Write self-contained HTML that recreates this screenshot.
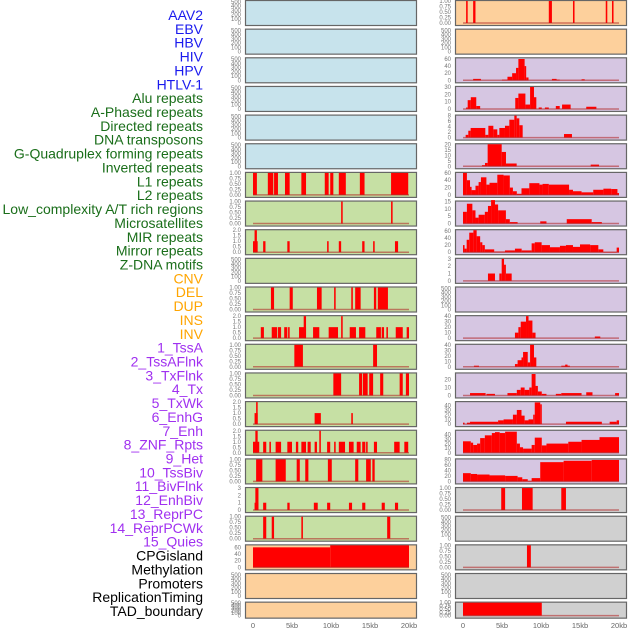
<!DOCTYPE html>
<html><head><meta charset="utf-8">
<style>
html,body{margin:0;padding:0;background:#fff;}
svg{display:block;font-family:"Liberation Sans",sans-serif;}
</style></head>
<body>
<svg id="chart" width="630" height="630" viewBox="0 0 630 630" xmlns="http://www.w3.org/2000/svg">
<g id="labels"></g>
<g id="panels"></g>
<g id="xaxes"></g>
</svg>
<script>
// ---- data (segments: [startKb, endKb, value]) ----
const trackNames = ["AAV2","EBV","HBV","HIV","HPV","HTLV-1","Alu repeats","A-Phased repeats","Directed repeats","DNA transposons","G-Quadruplex forming repeats","Inverted repeats","L1 repeats","L2 repeats","Low_complexity A/T rich regions","Microsatellites","MIR repeats","Mirror repeats","Z-DNA motifs","CNV","DEL","DUP","INS","INV","1_TssA","2_TssAFlnk","3_TxFlnk","4_Tx","5_TxWk","6_EnhG","7_Enh","8_ZNF_Rpts","9_Het","10_TssBiv","11_BivFlnk","12_EnhBiv","13_ReprPC","14_ReprPCWk","15_Quies","CPGisland","Methylation","Promoters","ReplicationTiming","TAD_boundary"];
const labelColors = ["#1a1aee","#1a1aee","#1a1aee","#1a1aee","#1a1aee","#1a1aee","#1a6e1a","#1a6e1a","#1a6e1a","#1a6e1a","#1a6e1a","#1a6e1a","#1a6e1a","#1a6e1a","#1a6e1a","#1a6e1a","#1a6e1a","#1a6e1a","#1a6e1a","#ffa500","#ffa500","#ffa500","#ffa500","#ffa500","#a030f0","#a030f0","#a030f0","#a030f0","#a030f0","#a030f0","#a030f0","#a030f0","#a030f0","#a030f0","#a030f0","#a030f0","#a030f0","#a030f0","#a030f0","#000","#000","#000","#000","#000"];
const ticksEmpty = [0,100,200,300,400,500];
const ticksUnit = [0,0.25,0.5,0.75,1];
const ticks2 = [0,0.5,1,1.5,2];
const ticks3 = [0,1,2,3];

const aluData = [[0,0.5,1],[1.9,2.6,1],[2.7,3.2,1],[4.1,4.7,1],[6.2,6.8,1],[9.2,9.7,1],[9.9,10.3,1],[11,11.9,1],[13.7,14.3,1],[17.7,19.9,1]];
const aPhasedData = [[11.3,11.5,1],[17.7,17.9,1]];
const directedData = [[0,0.6,1],[0.2,0.5,2],[1.3,1.6,1],[4.4,4.7,1],[9.5,9.7,1],[11,11.3,1],[14,14.3,1],[15.4,15.6,1],[18.2,18.6,1]];
const gQuadData = [[2.3,2.7,1],[4.7,5.1,1],[8.2,8.8,1],[10.4,10.6,1],[12.6,12.8,1],[13.1,13.8,1],[15.5,15.8,1],[16,17.3,1]];
const invertedData = [[1,1.4,1],[2.4,3.1,1],[3.2,3.6,1],[4,4.4,1],[4.5,4.7,1],[5.9,6.8,1],[6.5,6.8,2],[7.7,8.5,1],[9.7,10.9,1],[11.3,11.5,2],[12.4,13.2,1],[13.6,14.4,1],[15.8,16.4,1],[16.5,16.8,1],[17.1,17.3,1],[18.3,19.2,1],[19.7,20,1]];
const l1Data = [[5.3,6.4,1],[15.4,15.9,1]];
const l2Data = [[10.3,11.3,1],[13.6,14,1],[14.1,14.7,1],[14.9,15.4,1],[16.3,16.7,1],[18.8,19.2,1],[19.6,20,1]];
const lowCompData = [[0.2,0.6,1],[0.4,0.6,2],[7.9,8.7,1],[12.6,12.8,1]];
const microsatData = [[0,0.8,1],[0.3,0.6,2],[1.3,1.7,1],[2.1,2.3,1],[2.9,3.6,1],[4.4,5,1],[5.5,5.8,1],[6.2,6.8,1],[7,7.4,1],[7.9,8.2,1],[8.5,8.7,2],[9.5,9.9,1],[10.4,10.6,1],[11,11.8,1],[12.3,12.9,1],[13.3,13.8,1],[14,14.4,1],[14.5,14.7,1],[15.5,15.9,1],[18.1,18.8,1],[19.4,19.9,1]];
const mirData = [[0.4,1.2,1],[2.9,4.2,1],[5.6,6,1],[6.7,7.1,1],[9.6,10.1,1],[13.1,13.5,1],[14.5,15.1,1],[15.3,15.6,1]];
const mirrorData = [[0.2,0.7,1],[0.3,0.7,3],[1.3,1.7,1],[4.4,4.7,1],[7.8,8.3,1],[9.5,9.9,1],[12.3,12.7,1],[14,14.4,1],[16.5,16.9,1],[18.2,18.6,1]];
const zdnaData = [[1.3,1.7,1],[2.4,2.7,1],[6.2,6.4,1],[17.2,17.6,1]];
const cnvData = [[0,9.9,60],[9.9,20,66]];
const insData = [[0.4,0.6,1],[1.3,1.6,1],[11,11.4,1],[14.1,14.3,1],[18.3,18.5,1],[19.1,19.3,1]];
const tssAData = [[1.3,2.3,4],[5,5.7,2],[5.7,6.3,10],[6.3,6.8,20],[6.8,7.1,35],[7.1,7.9,60],[7.9,8.1,40],[8.1,8.4,8],[11.4,12,4],[12,12.4,2],[15.2,15.6,3]];
const tssAFlnkData = [[0.4,0.6,2],[0.6,1,12],[1,1.7,16],[1.7,2.2,4],[6.7,7.1,15],[7.1,8,21],[8,8.6,6],[8.6,9.1,30],[9.1,9.4,16],[9.7,10.1,2],[10.5,11,2],[11.9,12.4,4],[12.7,13.8,6],[15.8,17.1,3]];
const txFlnkData = [[0.34,0.68,1],[0.68,0.98,2.5],[0.98,2.86,3.5],[2.86,3.25,1],[3.25,3.89,4.3],[3.89,4.4,3],[4.4,4.66,1],[4.66,5.38,3.5],[5.38,5.94,4.3],[5.94,6.58,6.5],[6.58,6.88,8],[6.88,7.22,7],[7.22,7.65,4.5],[12.95,13.97,1.3]];
const txData = [[2.43,2.82,1],[2.82,3.16,3],[3.16,4.96,20],[4.96,5.51,13],[5.51,6.88,2.5],[16.37,17.44,1.5]];
const txWkData = [[0,0.5,60],[0.5,0.9,40],[0.9,1.1,22],[1.1,1.6,13],[1.6,2,25],[2,2.3,35],[2.3,3,48],[3,3.4,28],[3.4,4.4,33],[4.4,5.2,55],[5.2,6,53],[6,6.4,20],[6.4,6.9,10],[6.9,7.5,3],[7.5,8.5,18],[8.5,9.8,32],[9.8,10.2,28],[10.2,11,30],[11,13.6,28],[13.6,14.1,14],[14.1,15.2,10],[15.2,16.7,7],[16.7,18,14],[18,19,17],[19,19.8,16],[19.8,20,5]];
const enhGData = [[0,0.5,8],[0.5,1.2,13.5],[1.2,1.6,9],[1.6,2,4],[2,2.8,6],[2.8,3.2,8],[3.2,3.6,12],[3.6,4.1,16],[4.1,4.5,13],[4.5,5.5,9],[5.5,6,3],[6,7,1],[9.9,10.7,1.5],[13.3,16.5,3],[16.5,17.8,1]];
const enhData = [[0,0.2,20],[0.2,0.47,10],[0.47,0.8,35],[0.8,1.33,55],[1.33,1.75,62],[1.75,2.2,45],[2.2,2.48,28],[2.48,2.8,20],[2.8,4,8],[4,5.38,2],[5.38,6.66,5],[6.66,7.52,10],[7.52,8.8,5],[8.8,9.2,25],[9.2,10.08,28],[10.08,11.15,20],[11.15,12.43,14],[12.43,13.2,18],[13.2,14.1,20],[14.1,15,15],[15,16.3,22],[16.3,17.35,20],[17.35,17.99,8],[17.99,19.7,1],[19.7,20,13]];
const znfData = [[3.2,4.1,1],[4.66,4.96,1],[4.96,5.26,3],[5.26,5.5,2.2],[5.5,6.24,1]];
const hetData = [];
const tssBivData = [[6.66,7.1,10],[7.1,7.4,20],[7.4,8.08,30],[8.08,8.4,40],[8.4,8.9,32],[8.9,9.3,10],[16.9,17.6,3]];
const bivFlnkData = [[1.4,2.05,2],[6.66,7,5],[7,7.5,12],[7.5,7.7,17],[7.7,8.3,27],[8.3,8.6,8],[8.6,9.1,40],[9.1,9.4,17],[12.6,13.7,2],[13.1,13.4,4]];
const enhBivData = [[0.9,2.9,3],[3,4.1,2],[5.7,6.9,3],[6.9,7.4,7],[7.4,7.9,10],[7.9,8.5,7],[8.5,8.8,10],[8.8,9.3,27],[9.3,9.6,12],[9.6,10.1,5],[10.1,10.7,2],[11.9,12.6,2],[12.6,15.2,3],[15.8,16.6,4],[19.5,20,3]];
const reprPCData = [[0,0.2,3],[0.5,0.9,3],[0.9,4.5,5],[4.5,5.2,8],[5.2,6.4,10],[6.4,6.9,20],[6.9,7.5,30],[7.5,7.9,18],[7.9,8.4,8],[8.4,9,10],[9,9.2,20],[9.2,9.9,46],[9.9,10.1,42],[13.2,17.8,5],[18.8,19.7,5],[19.7,20,8]];
const reprPCWkData = [[0,1,25],[1,1.3,22],[1.3,1.8,17],[1.8,2.2,20],[2.2,2.8,32],[2.8,3.7,38],[3.7,4.1,43],[4.1,4.7,45],[4.7,5.4,43],[5.4,6.9,46],[6.9,7.3,20],[7.3,7.7,12],[7.7,8.8,9],[8.8,9.2,17],[9.2,10.1,33],[10.1,10.7,16],[10.7,13.5,20],[13.5,15.2,24],[15.2,17.5,28],[17.5,20,34]];
const quiesData = [[0,1,30],[1,1.8,27],[1.8,3.4,25],[3.4,5.4,22],[5.4,7,20],[7,7.6,15],[7.6,8.3,8],[8.3,8.8,2],[8.8,9.9,12],[9.9,12.9,70],[12.9,16.5,75],[16.5,20,78]];
const cpgData = [[4.9,5.4,1],[7.56,8.93,1],[12.6,13.2,1]];
const promotersData = [[8.2,8.7,1]];
const tadData = [[0,10.1,1]];

// per-panel: [segments, tick values, ymax, background]
const panels = [
 [[],ticksEmpty,520,"#c7e3ec"],[[],ticksEmpty,520,"#c7e3ec"],[[],ticksEmpty,520,"#c7e3ec"],
 [[],ticksEmpty,520,"#c7e3ec"],[[],ticksEmpty,520,"#c7e3ec"],[[],ticksEmpty,520,"#c7e3ec"],
 [aluData,ticksUnit,1,"#c6e0a4"],[aPhasedData,ticksUnit,1,"#c6e0a4"],[directedData,ticks2,2,"#c6e0a4"],
 [[],ticksEmpty,520,"#c6e0a4"],[gQuadData,ticksUnit,1,"#c6e0a4"],[invertedData,ticks2,2,"#c6e0a4"],
 [l1Data,ticksUnit,1,"#c6e0a4"],[l2Data,ticksUnit,1,"#c6e0a4"],[lowCompData,ticks2,2,"#c6e0a4"],
 [microsatData,ticks2,2,"#c6e0a4"],[mirData,ticksUnit,1,"#c6e0a4"],[mirrorData,ticks3,3,"#c6e0a4"],
 [zdnaData,ticksUnit,1,"#c6e0a4"],[cnvData,[0,20,40,60],66,"#fdd09c"],[[],ticksEmpty,520,"#fdd09c"],
 [[],ticksEmpty,520,"#fdd09c"],
 [insData,ticksUnit,1,"#fdd09c"],[[],ticksEmpty,520,"#fdd09c"],
 [tssAData,[0,20,40,60],62,"#d6c6e2"],[tssAFlnkData,[0,10,20,30],30,"#d6c6e2"],[txFlnkData,[0,2,4,6,8],8,"#d6c6e2"],
 [txData,[0,5,10,15,20],20,"#d6c6e2"],[txWkData,[0,20,40,60],60,"#d6c6e2"],[enhGData,[0,5,10,15],15,"#d6c6e2"],
 [enhData,[0,20,40,60],62,"#d6c6e2"],[znfData,ticks3,3,"#d6c6e2"],[hetData,ticksEmpty,520,"#d6c6e2"],
 [tssBivData,[0,10,20,30,40],40,"#d6c6e2"],[bivFlnkData,[0,10,20,30,40],40,"#d6c6e2"],[enhBivData,[0,10,20],27.7,"#d6c6e2"],
 [reprPCData,[0,10,20,30,40],46.7,"#d6c6e2"],[reprPCWkData,[0,10,20,30,40],48,"#d6c6e2"],[quiesData,[0,20,40,60,80],80,"#d6c6e2"],
 [cpgData,ticksUnit,1,"#d0d0d0"],[[],ticksEmpty,520,"#d0d0d0"],[promotersData,ticksUnit,1,"#d0d0d0"],
 [[],ticksEmpty,520,"#d0d0d0"],[tadData,ticksUnit,1,"#d0d0d0"]
];
const xTickValues = [0,5,10,15,20];
const xTickLabels = ["0","5kb","10kb","15kb","20kb"];

// ---- drawing ----
const NS = "http://www.w3.org/2000/svg";
function mk(tag, attrs, parent){ const e=document.createElementNS(NS,tag); for(const k in attrs) e.setAttribute(k,attrs[k]); parent.appendChild(e); return e; }
const colX = [245,455];
const PW = 171;
function rowTop(r){ return r*28.65; }
function rowH(r){ return r===21 ? 16 : 25; }
function xScale(col, kb){ return colX[col] + 8 + kb*7.8; }
function yScale(r, v, ymax){ const b=rowTop(r)+rowH(r)-2, t=rowTop(r)+1; return b - (v/ymax)*(b-t); }
function fmtTick(ticks, tv){
  if(ticks===ticksUnit) return tv.toFixed(2);
  if(ticks===ticks2) return tv.toFixed(1);
  return String(tv);
}

const labelsG = document.getElementById('labels');
trackNames.forEach((n,i)=>{
  const t = mk('text',{x:203,y:15+i*13.86+5,'text-anchor':'end','font-size':'14',fill:labelColors[i]},labelsG);
  t.textContent = n;
  
  
});

const panelsG = document.getElementById('panels');
panels.forEach((p,i)=>{
  const col = i<22?0:1, r = i%22;
  const [segs,ticks,ymax,bg] = p;
  const g = mk('g',{},panelsG);
  
  
  const top=rowTop(r), h=rowH(r);
  mk('rect',{x:colX[col]+0.5,y:top+0.5,width:PW,height:h,fill:bg,stroke:'#666','stroke-width':1.2},g);
  ticks.forEach(tv=>{
    const tt = mk('text',{x:colX[col]-4,y:yScale(r,tv,ymax)+2,'text-anchor':'end','font-size':'6',fill:'#777'},g);
    tt.textContent = fmtTick(ticks, tv);
    
    
  });
  segs.forEach(s=>{
    const x1=xScale(col,s[0]), x2=xScale(col,s[1]);
    const y0=yScale(r,0,ymax), y1=yScale(r,s[2],ymax);
    const b = mk('rect',{x:x1,y:y1,width:Math.max(1.2,x2-x1),height:Math.max(0.5,y0-y1),fill:'#ff0000'},g);
    
    
  });
  if(ticks!==ticksEmpty){
    const y0=yScale(r,0,ymax);
    const bl = mk('line',{x1:xScale(col,0),x2:xScale(col,20),y1:y0,y2:y0,stroke:'#b02020','stroke-opacity':0.55,'stroke-width':1.5},g);
    
    
  }
});

const xG = document.getElementById('xaxes');
[0,1].forEach(col=>{
  xTickValues.forEach((v,j)=>{
    const t = mk('text',{x:xScale(col,v),y:628,'text-anchor':'middle','font-size':'7.5',fill:'#666'},xG);
    t.textContent = xTickLabels[j];
    
    
  });
});
</script>
</body></html>
